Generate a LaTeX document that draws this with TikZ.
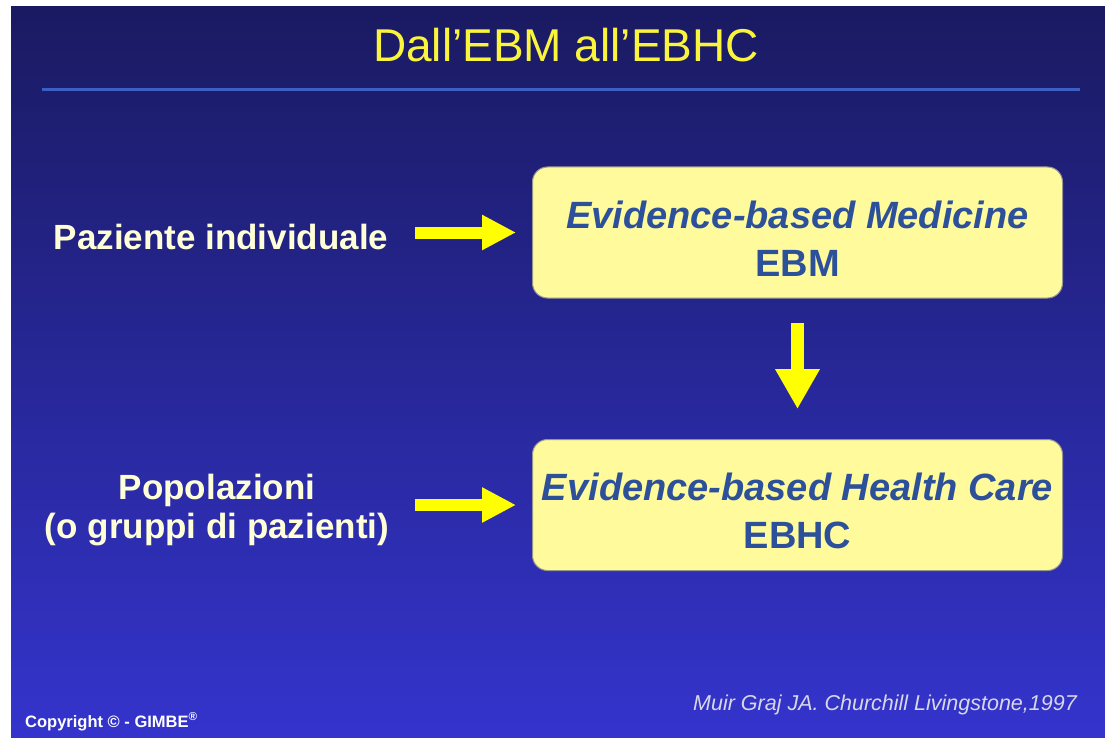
\documentclass[tikz,border=0pt]{standalone}
\usepackage{fontspec}
\setmainfont{Liberation Sans}
\usetikzlibrary{arrows.meta}

\definecolor{bgtop}{RGB}{26,26,98}
\definecolor{bgmid}{RGB}{40,40,160}
\definecolor{bgbot}{RGB}{52,52,205}
\definecolor{boxfill}{RGB}{255,250,155}
\definecolor{boxedge}{RGB}{150,150,140}
\definecolor{boxtext}{RGB}{45,80,155}
\definecolor{titleyellow}{RGB}{250,245,60}
\definecolor{labelcream}{RGB}{255,255,215}
\definecolor{rulecol}{RGB}{60,95,195}
\definecolor{citecol}{RGB}{215,215,232}
\definecolor{arrowyellow}{RGB}{255,255,0}

% strut that lowers the first line of a box a little
\newcommand{\boxstrut}{\rule{0pt}{40pt}}

\begin{document}
\begin{tikzpicture}[x=1pt,y=-1pt,
  ebox/.style={draw=boxedge, line width=1pt, fill=boxfill, rounded corners=15pt,
    minimum width=530pt, minimum height=131pt, inner sep=0pt, align=center,
    text=boxtext, font=\fontsize{38}{48}\selectfont\bfseries},
  lab/.style={inner sep=0pt, align=center, text=labelcream,
    font=\fontsize{35}{39}\selectfont\bfseries},
  harrow/.style={draw=arrowyellow, line width=12pt,
    -{Triangle[length=34pt,width=33pt]}},
  varrow/.style={draw=arrowyellow, line width=13pt,
    -{Triangle[length=40pt,width=42pt]}}]

\useasboundingbox (0,0) rectangle (1105,738);

% page and slide background
\fill[white] (0,0) rectangle (1105,738);
\shade[top color=bgtop, middle color=bgmid, bottom color=bgbot]
  (11,7) rectangle (1105,738);

% title and rule beneath it
\node[anchor=base, inner sep=0pt, text=titleyellow,
  font=\fontsize{46}{50}\selectfont] (title) at (566,62) {Dall’EBM all’EBHC};
\draw[rulecol, line width=3pt] (42,90) -- (1080,90);

% the two boxes
\node[ebox] (box1) at (797.5,232.5) {\boxstrut\itshape Evidence-based Medicine\\EBM};
\node[ebox] (box2) at (797.5,505) {\boxstrut\itshape Evidence-based Health Care\\EBHC};

% labels on the left
\node[lab, anchor=base] (lab1) at (221,249) {Paziente individuale};
\node[lab] (lab2) at (217,510) {Popolazioni\\(o gruppi di pazienti)};

% arrows
\coordinate (a1) at (415,232.5);
\coordinate (a3) at (415,505);
\draw[harrow, shorten >=16pt] (a1) -- (box1.west);
\draw[harrow, shorten >=16pt] (a3) -- (box2.west);
\draw[varrow, shorten <=24pt, shorten >=30pt] (box1.south) -- (box2.north);

% footer
\node[anchor=base east, inner sep=0pt, text=citecol,
  font=\fontsize{21.5}{24}\selectfont\itshape] (cite) at (1077,710)
  {Muir Graj JA. Churchill Livingstone,1997};
\node[anchor=base west, inner sep=0pt, text=white,
  font=\fontsize{16.5}{18}\selectfont\bfseries] (copy) at (25,727)
  {Copyright © - GIMBE\textsuperscript{®}};
\end{tikzpicture}
\end{document}
